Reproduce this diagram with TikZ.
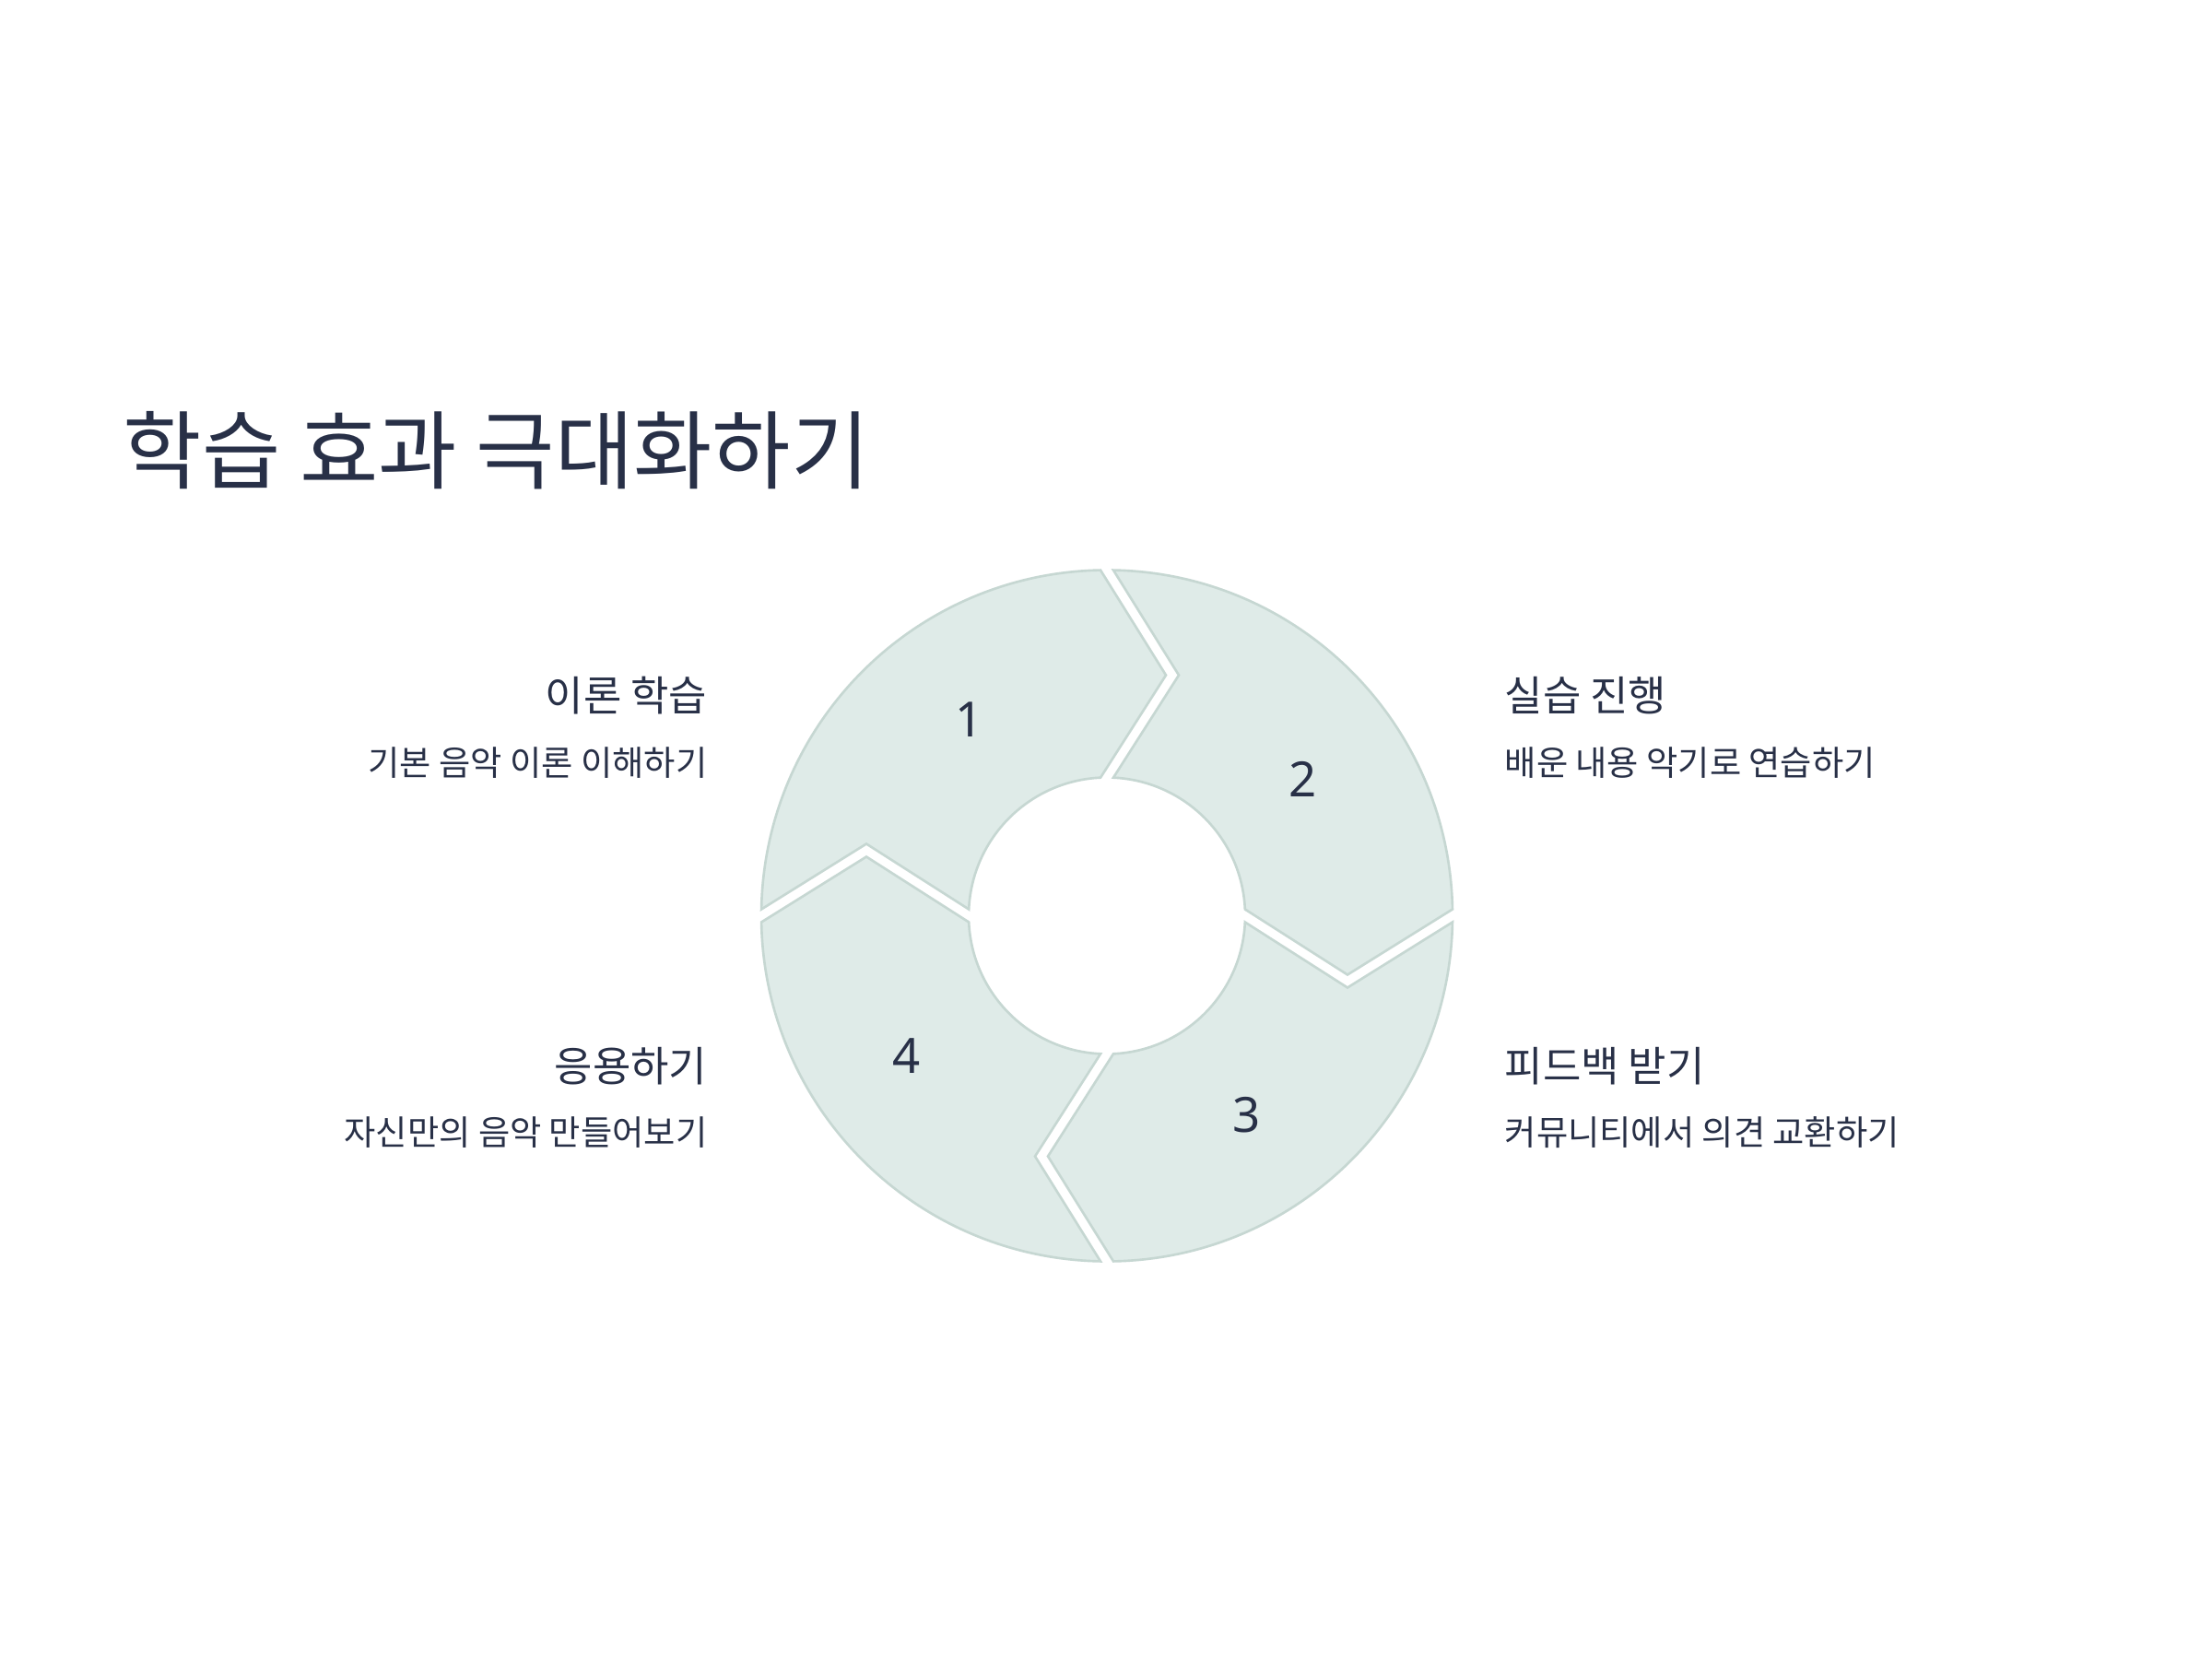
\documentclass[tikz,border=0pt]{standalone}
\usepackage{fontspec}
\setmainfont{Noto Sans CJK KR}
\newfontfamily\numfont{Noto Sans}
\usetikzlibrary{positioning, calc}
\definecolor{segFill}{HTML}{DFEBE8}
\definecolor{segBorder}{HTML}{C6D7D2}
\definecolor{inkColor}{HTML}{283047}

\begin{document}
\begin{tikzpicture}[
    font=\fontsize{11}{13}\selectfont,
    segbox/.style={
        draw=segBorder, fill=segFill, line width=0.75pt,
        line join=miter
    },
    titletext/.style={
        anchor=base west, inner sep=0pt, text=inkColor,
        font=\fontsize{26.4}{31}\selectfont
    },
    headtext/.style={
        inner sep=0pt, text=inkColor,
        font=\fontsize{12.8}{15}\selectfont
    },
    subtext/.style={
        inner sep=0pt, text=inkColor,
        font=\fontsize{10.6}{13}\selectfont
    },
    numtext/.style={
        inner sep=0pt, text=inkColor,
        font=\numfont\fontsize{15}{18}\selectfont
    },
]

% ============================================================
%  CANVAS
% ============================================================
\fill[white] (0,0) rectangle (24,18);
\useasboundingbox (0,0) rectangle (24,18);

\node[titletext] (title) at (1.33,12.77) {학습 효과 극대화하기};

% ============================================================
%  RING  (four arrow segments, clockwise)
% ============================================================
\coordinate (ctr) at (12.01,8.065);
\def\Rout{3.75}
\def\Rin{1.50}
\foreach \n/\a/\rr in {2/0/2.59, 3/-90/2.64, 4/-180/2.65, 1/90/2.60}{
    \begin{scope}[shift={(ctr)}, rotate=\a]
        \draw[segbox] (88.93:\Rout) arc[start angle=88.93, end angle=1.07, radius=\Rout]
            -- (2.61,-0.64) -- (2.67:\Rin)
            arc[start angle=2.67, end angle=87.33, radius=\Rin]
            -- (0.78,2.61) -- cycle;
        \node[numtext] (num\n) at (35:\rr) {\n};
    \end{scope}
}

% ============================================================
%  STEP LABELS
% ============================================================
\node[headtext, anchor=base east] (head1) at (7.68,10.29) {이론 학습};
\node[subtext, anchor=base east] (sub1) at ([yshift=-0.70cm]head1.base east)
    {기본 음악 이론 이해하기};

\node[headtext, anchor=base west] (head2) at (16.32,10.29) {실습 진행};
\node[subtext, anchor=base west] (sub2) at ([yshift=-0.70cm]head2.base west)
    {배운 내용 악기로 연습하기};

\node[headtext, anchor=base west] (head3) at (16.32,6.27) {피드백 받기};
\node[subtext, anchor=base west] (sub3) at ([yshift=-0.69cm]head3.base west)
    {커뮤니티에서 의견 교환하기};

\node[headtext, anchor=base east] (head4) at (7.68,6.27) {응용하기};
\node[subtext, anchor=base east] (sub4) at ([yshift=-0.69cm]head4.base east)
    {자신만의 음악 만들어보기};

\end{tikzpicture}
\end{document}
